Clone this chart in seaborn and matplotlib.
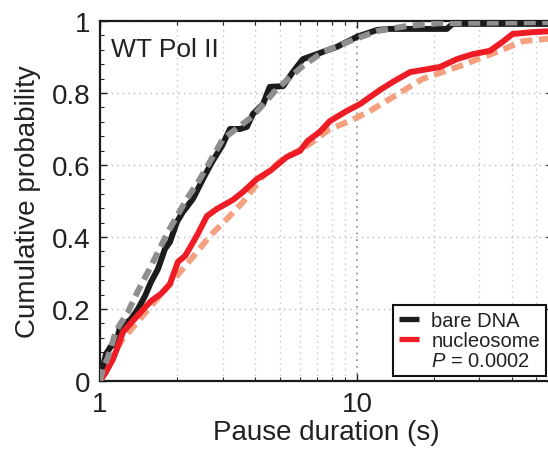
import numpy as np
import pandas as pd
import matplotlib
matplotlib.use("Agg")
import matplotlib.pyplot as plt
from matplotlib.lines import Line2D
from matplotlib.ticker import LogLocator, FixedLocator, MultipleLocator, NullFormatter, FixedFormatter
import seaborn as sns

# ---- data ----
bare_x = [1.0, 1.027, 1.055, 1.104, 1.154, 1.196, 1.251, 1.32, 1.405, 1.497, 1.579, 1.681, 1.79,
          1.871, 1.993, 2.10, 2.30, 2.516, 2.728, 2.984, 3.205, 3.505, 3.73, 3.94, 4.31, 4.58,
          5.16, 5.63, 6.16, 6.98, 8.35, 10.0, 11.96, 13.4, 22.4, 23.6, 58.0]
bare_y = [0.0, 0.039, 0.075, 0.097, 0.103, 0.15, 0.158, 0.172, 0.20, 0.236, 0.275, 0.311, 0.367,
          0.386, 0.442, 0.469, 0.506, 0.561, 0.608, 0.653, 0.70, 0.70, 0.706, 0.742, 0.769, 0.817,
          0.819, 0.858, 0.894, 0.908, 0.928, 0.956, 0.975, 0.978, 0.978, 0.992, 0.992]

bare_fit_x = [1.0, 1.027, 1.075, 1.154, 1.285, 1.405, 1.537, 1.681, 1.838, 2.179, 2.449, 3.008,
              3.94, 4.88, 6.16, 7.39, 9.39, 11.96, 15.6, 21.0, 58.0]
bare_fit_y = [0.0, 0.033, 0.067, 0.139, 0.192, 0.25, 0.303, 0.358, 0.414, 0.506, 0.561, 0.672,
              0.736, 0.811, 0.875, 0.914, 0.944, 0.972, 0.986, 0.994, 0.997]

nuc_x = [1.0, 1.055, 1.124, 1.175, 1.229, 1.308, 1.444, 1.579, 1.727, 1.871, 2.011, 2.141, 2.26,
         2.40, 2.607, 2.851, 3.29, 3.60, 4.08, 4.58, 5.33, 6.0, 6.44, 7.17, 7.85, 9.13, 10.27,
         12.28, 13.82, 16.1, 21.0, 24.5, 28.3, 32.9, 36.9, 40.4, 48.3, 58.0]
nuc_y = [0.0, 0.025, 0.061, 0.097, 0.136, 0.158, 0.192, 0.222, 0.242, 0.269, 0.331, 0.347, 0.375,
         0.408, 0.458, 0.478, 0.503, 0.525, 0.561, 0.583, 0.622, 0.639, 0.667, 0.692, 0.722, 0.75,
         0.769, 0.808, 0.831, 0.858, 0.872, 0.894, 0.908, 0.917, 0.942, 0.964, 0.969, 0.972]

nuc_fit_x = [1.0, 1.027, 1.124, 1.229, 1.431, 1.667, 1.993, 2.383, 2.68, 3.12, 3.60, 4.31, 5.16,
             6.39, 7.85, 9.39, 11.23, 13.4, 18.0, 25.2, 35.0, 44.4, 58.0]
nuc_fit_y = [0.0, 0.014, 0.075, 0.117, 0.172, 0.228, 0.292, 0.358, 0.403, 0.45, 0.497, 0.569,
             0.617, 0.653, 0.70, 0.722, 0.75, 0.783, 0.839, 0.875, 0.914, 0.944, 0.952]

labels = ["bare DNA", "nucleosome"]
p_text = "$P$ = 0.0002"
panel_title = "WT Pol II"
y_ticks = [0, 0.2, 0.4, 0.6, 0.8, 1]
y_tick_labels = ["0", "0.2", "0.4", "0.6", "0.8", "1"]
x_ticks = [1, 10]
x_tick_labels = ["1", "10"]

# ---- style ----
sns.set_theme(style="ticks")
plt.rcParams["font.family"] = ["Liberation Sans", "DejaVu Sans"]
plt.rcParams["mathtext.fontset"] = "custom"
plt.rcParams["mathtext.rm"] = "Liberation Sans"
plt.rcParams["mathtext.it"] = "Liberation Sans:italic"

c_black = "#1c1c1c"
c_red = "#ee1d25"
c_gray = "#8e8e8e"
c_salmon = "#f5a07f"
LW = 4.3
DASH = (0, (2.0, 1.1))

fig = plt.figure(figsize=(5.48, 4.52), dpi=100)
ax = fig.add_axes([100 / 548, 70 / 452, 453 / 548, 360 / 452])

df_fit_b = pd.DataFrame({"x": bare_fit_x, "y": bare_fit_y})
df_fit_n = pd.DataFrame({"x": nuc_fit_x, "y": nuc_fit_y})
df_b = pd.DataFrame({"x": bare_x, "y": bare_y})
df_n = pd.DataFrame({"x": nuc_x, "y": nuc_y})

sns.lineplot(data=df_fit_n, x="x", y="y", ax=ax, color=c_salmon, linewidth=LW, zorder=2)
sns.lineplot(data=df_b, x="x", y="y", ax=ax, color=c_black, linewidth=LW, zorder=3)
sns.lineplot(data=df_n, x="x", y="y", ax=ax, color=c_red, linewidth=LW, zorder=3)
sns.lineplot(data=df_fit_b, x="x", y="y", ax=ax, color=c_gray, linewidth=LW, zorder=4)
ax.lines[0].set_linestyle(DASH)
ax.lines[3].set_linestyle(DASH)
for ln in ax.lines:
    ln.set_solid_capstyle("butt")
    ln.set_dash_capstyle("butt")
    ln.set_solid_joinstyle("round")

ax.set_xscale("log")
ax.set_xlim(1, 58)
ax.set_ylim(0, 1)

ax.xaxis.set_major_locator(FixedLocator(x_ticks))
ax.xaxis.set_major_formatter(FixedFormatter(x_tick_labels))
ax.xaxis.set_minor_locator(LogLocator(base=10, subs=np.arange(2, 10)))
ax.xaxis.set_minor_formatter(NullFormatter())
ax.yaxis.set_major_locator(FixedLocator(y_ticks))
ax.yaxis.set_major_formatter(FixedFormatter(y_tick_labels))
ax.yaxis.set_minor_locator(MultipleLocator(0.04))

ax.tick_params(which="both", direction="in", top=True, right=True, colors="#222222",
               labelsize=20, labelcolor="#222222")
ax.tick_params(which="major", length=5, width=1.0, pad=7)
ax.tick_params(which="minor", length=3, width=0.8)

ax.grid(True, which="major", axis="y", linestyle=(0, (1, 3)), color="#b8b8b8", lw=1.0)
ax.grid(True, which="major", axis="x", linestyle=(0, (1, 3)), color="#888888", lw=1.2)
ax.grid(True, which="minor", axis="x", linestyle=(0, (1, 3)), color="#c4c4c4", lw=1.0)
ax.set_axisbelow(True)

for s in ax.spines.values():
    s.set_linewidth(1.6)
    s.set_color("#1a1a1a")

ax.set_xlabel("Pause duration (s)", fontsize=20, color="#222222", labelpad=2)
ax.set_ylabel("Cumulative probability", fontsize=20, color="#222222", labelpad=8)

ax.text(0.025, 0.955, panel_title, transform=ax.transAxes, fontsize=19, color="#222222",
        ha="left", va="top")

handles = [Line2D([], [], color=c_black, lw=3.8, solid_capstyle="butt"),
           Line2D([], [], color=c_red, lw=3.8, solid_capstyle="butt"),
           Line2D([], [], color="none", lw=0)]
leg = ax.legend(handles, labels + [p_text], loc="lower right",
                bbox_to_anchor=(546 / 548, 75 / 452), bbox_transform=fig.transFigure,
                fontsize=14.5, frameon=True, fancybox=False, framealpha=1,
                edgecolor="#111111", handlelength=1.0, handletextpad=0.6,
                labelspacing=0.05, borderpad=0.3, borderaxespad=0)
leg.get_frame().set_linewidth(1.5)
for t in leg.get_texts():
    t.set_color("#222222")

fig.savefig("out.png", dpi=100)
